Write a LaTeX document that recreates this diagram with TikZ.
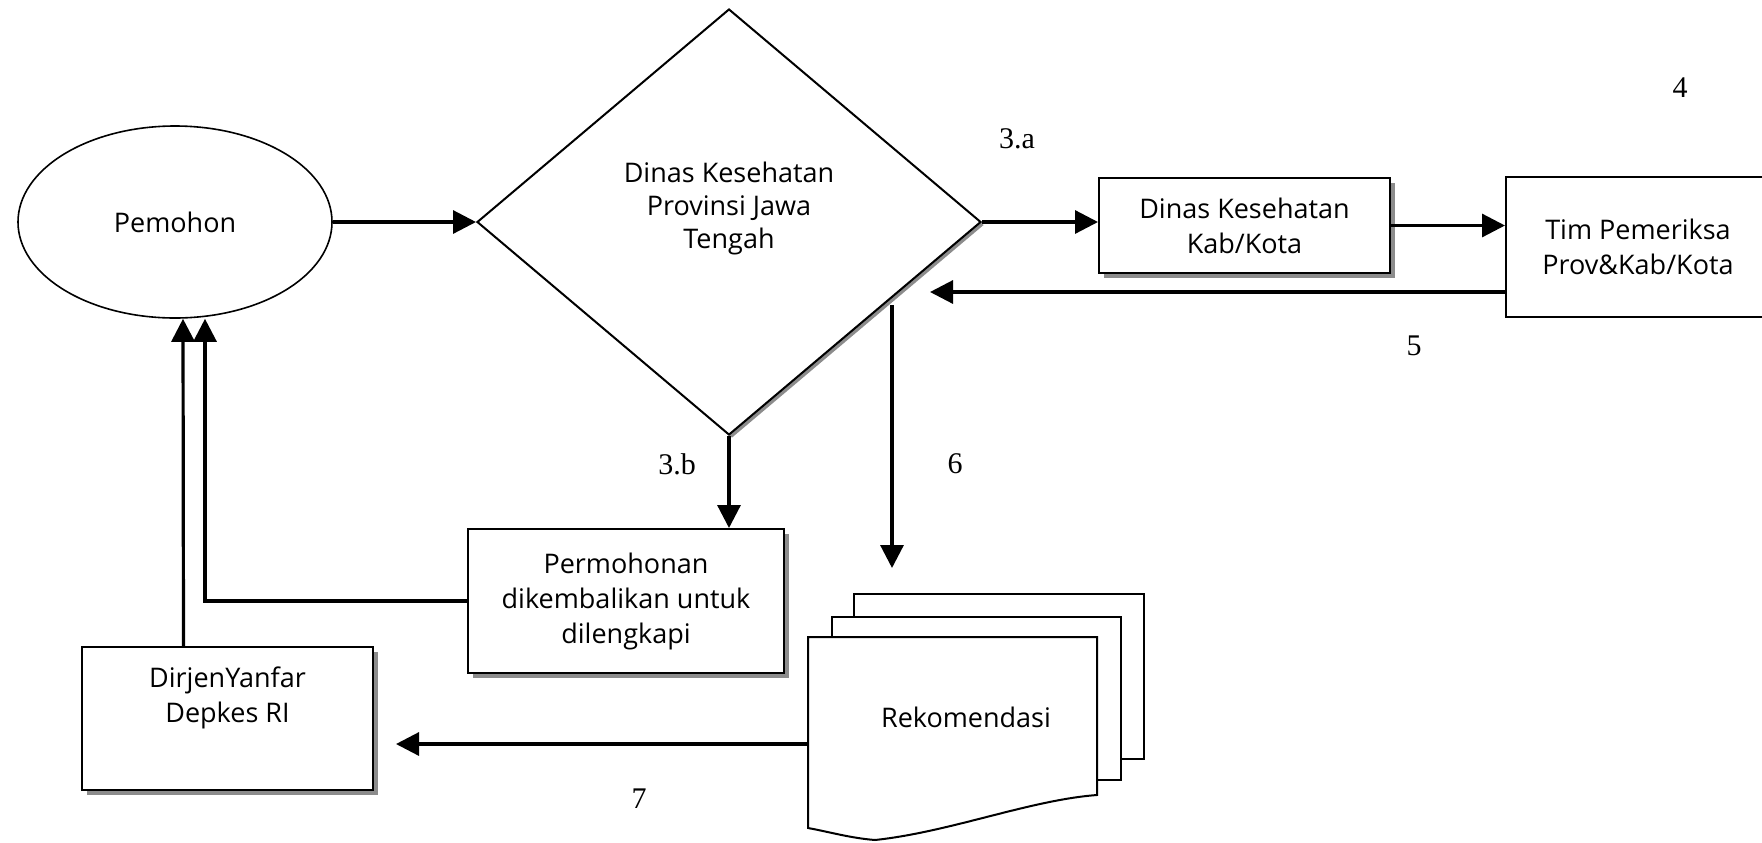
\documentclass[tikz,border=0pt]{standalone}
\usepackage{fontspec}
\setmainfont{Open Sans}
\newfontfamily\numfont{Liberation Serif}
\usetikzlibrary{shapes.geometric,arrows.meta,shadows}

\begin{document}
\begin{tikzpicture}[x=0.5pt, y=-0.5pt,
    txt/.style={align=center, font=\fontsize{13.5}{17.5}\selectfont},
    flow/.style={txt, draw=black, line width=1pt, fill=white, inner sep=2pt},
    shadowbox/.style={flow, drop shadow={shadow xshift=2.5pt, shadow yshift=-2.5pt, fill=black!45, opacity=1}},
    arr/.style={black, line width=1.6pt, -{Triangle[length=11.5pt,width=11.5pt]}},
    doc/.style={black, line width=1pt},
    num/.style={font=\numfont\fontsize{15}{17}\selectfont}]
    \useasboundingbox (0,0) rectangle (1762,842);
    \clip (0,0) rectangle (1762,842);
    \node[txt, ellipse, draw=black, line width=0.8pt, minimum width=157pt, minimum height=96pt] (pem) at (175,222) {Pemohon};
    \node[txt, diamond, draw=black, line width=1pt, fill=white, inner sep=0pt, minimum width=252pt, minimum height=213pt,
        drop shadow={shadow xshift=1.5pt, shadow yshift=-1.5pt, fill=black!45, opacity=1},
        font=\fontsize{13.5}{16.5}\selectfont] (dinas) at (729,222) {Dinas Kesehatan\\Provinsi Jawa\\Tengah\\\mbox{}};
    \node[shadowbox, minimum width=145.5pt, minimum height=47.5pt] (kab) at (1244.5,225.5) {Dinas Kesehatan\\Kab/Kota};
    \node[flow, minimum width=132pt, minimum height=70pt] (tim) at (1638,247) {\mbox{}\\[-7.5pt]Tim Pemeriksa\\Prov\&Kab/Kota};
    \node[shadowbox, minimum width=158pt, minimum height=72pt] (perm) at (626,601) {Permohonan\\dikembalikan untuk\\dilengkapi};
    \node[shadowbox, minimum width=145.5pt, minimum height=71.5pt] (dirjen) at (227.5,718.5) {DirjenYanfar\\Depkes RI\\[6.5pt]\mbox{}};
    \draw[doc] (854,617) |- (1144,594) |- (1121,759);
    \draw[doc] (832,637) |- (1121,617) |- (1097,780);
    \draw[doc, fill=white] (808,637) -- (1097,637) -- (1097,795) .. controls (1030,800) and (950,832) .. (875,840)
        .. controls (850,838) and (830,832) .. (808,828) -- cycle;
    \node[txt] (rekom) at (966,717) {Rekomendasi};
    \coordinate (t5) at (930,292);
    \coordinate (s6) at (892,305);
    \coordinate (t6) at (892,568);
    \coordinate (s7) at (808,744);
    \coordinate (t7) at (396,744);
    \draw[arr] (pem.east) -- (dinas.west);
    \draw[arr] (dinas.east) -- (dinas.east -| kab.west);
    \draw[arr] (kab.east) -- (kab.east -| tim.west);
    \draw[arr] (tim.west |- t5) -- (t5);
    \draw[arr] (dinas.south) -- (dinas.south |- perm.north);
    \draw[arr] (s6) -- (t6);
    \draw[arr] (perm.west) -| ([xshift=15pt]pem.south);
    \draw[arr] ([xshift=-22pt]dirjen.north) -- ([xshift=4pt]pem.south);
    \draw[arr] (s7) -- (t7);
    \node[num] (l3a) at (1017,139) {3.a};
    \node[num] (l4) at (1680,88) {4};
    \node[num] (l5) at (1414,346) {5};
    \node[num] (l3b) at (677,464) {3.b};
    \node[num] (l6) at (955,464) {6};
    \node[num] (l7) at (639,799) {7};
\end{tikzpicture}
\end{document}
